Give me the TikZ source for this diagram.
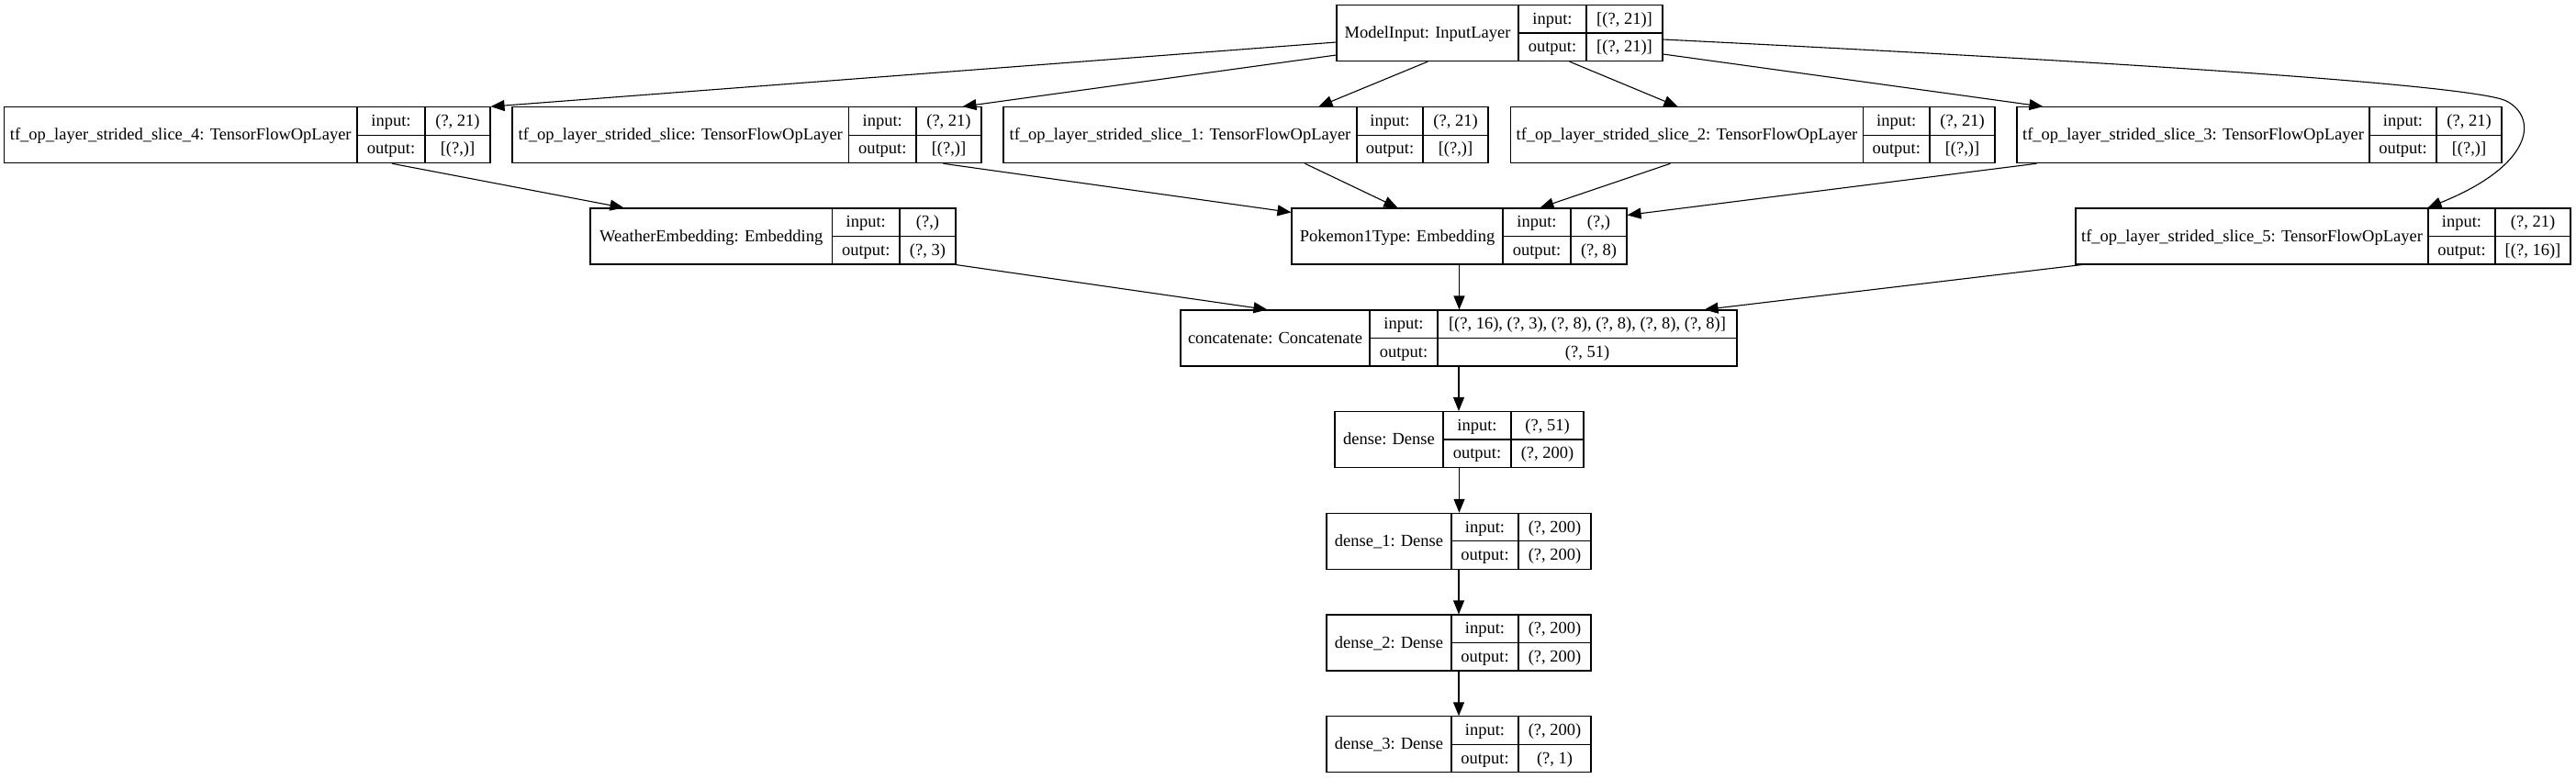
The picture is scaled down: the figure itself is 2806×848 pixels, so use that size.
\documentclass[tikz,border=0pt]{standalone}
\usepackage{fontspec}
\setmainfont{Liberation Serif}
\usetikzlibrary{fit,calc,arrows.meta}
\tikzset{
  boxshape/.style={draw, line width=0.55pt, inner sep=0pt, rectangle},
  cellline/.style={line width=0.55pt},
  txt/.style={anchor=base, inner sep=0pt, font=\fontsize{9.25pt}{11pt}\selectfont},
  edge/.style={line width=0.55pt, -{Triangle[length=7.5pt,width=6pt]}},
}
% #1 name, #2 x0, #3 y0, #4 x1, #5 first divider, #6 second divider, #7 label, #8 input, #9 output
\newcommand\layerbox[9]{%
  \coordinate (#1-nw) at (#2,#3);
  \coordinate (#1-se) at (#4,#3+61);
  \node[boxshape, fit=(#1-nw)(#1-se)] (#1) {};
  \draw[cellline] (#5,#3) -- (#5,#3+61) (#6,#3) -- (#6,#3+61) (#5,#3+30.5) -- (#4,#3+30.5);
  \node[txt] at ({(#2+#5)/2},#3+36) {#7};
  \node[txt] at ({(#5+#6)/2},#3+20.75) {input:};
  \node[txt] at ({(#5+#6)/2},#3+51.25) {output:};
  \node[txt] at ({(#6+#4)/2},#3+20.75) {#8};
  \node[txt] at ({(#6+#4)/2},#3+51.25) {#9};
}
\begin{document}
\begin{tikzpicture}[x=0.5pt,y=-0.5pt]
\path[fill=white] (0,0) rectangle (2806,848);
\useasboundingbox (0,0) rectangle (2806,848);

\layerbox{mi}{1456}{5.5}{1811}{1654}{1728}{ModelInput: InputLayer}{[(?, 21)]}{[(?, 21)]}
\layerbox{sfour}{4.5}{116.7}{534}{389}{463}{tf\_op\_layer\_strided\_slice\_4: TensorFlowOpLayer}{(?, 21)}{[(?,)]}
\layerbox{szero}{558}{116.7}{1069}{924.5}{998}{tf\_op\_layer\_strided\_slice: TensorFlowOpLayer}{(?, 21)}{[(?,)]}
\layerbox{sone}{1093}{116.7}{1621}{1478}{1550}{tf\_op\_layer\_strided\_slice\_1: TensorFlowOpLayer}{(?, 21)}{[(?,)]}
\layerbox{stwo}{1645.5}{116.7}{2173}{2029.5}{2102}{tf\_op\_layer\_strided\_slice\_2: TensorFlowOpLayer}{(?, 21)}{[(?,)]}
\layerbox{sthree}{2197}{116.7}{2725}{2581}{2654}{tf\_op\_layer\_strided\_slice\_3: TensorFlowOpLayer}{(?, 21)}{[(?,)]}
\layerbox{we}{643}{227}{1041}{906.5}{980}{WeatherEmbedding: Embedding}{(?,)}{(?, 3)}
\layerbox{pk}{1407}{227}{1772}{1637}{1711}{Pokemon1Type: Embedding}{(?,)}{(?, 8)}
\layerbox{sfive}{2261}{227}{2800}{2645}{2718}{tf\_op\_layer\_strided\_slice\_5: TensorFlowOpLayer}{(?, 21)}{[(?, 16)]}
\layerbox{cc}{1286}{338}{1892}{1492}{1566}{concatenate: Concatenate}{[(?, 16), (?, 3), (?, 8), (?, 8), (?, 8), (?, 8)]}{(?, 51)}
\layerbox{dz}{1454}{448.5}{1725}{1572}{1646}{dense: Dense}{(?, 51)}{(?, 200)}
\layerbox{done}{1445}{559.3}{1733}{1581}{1654}{dense\_1: Dense}{(?, 200)}{(?, 200)}
\layerbox{dtwo}{1445}{670}{1733}{1581}{1654}{dense\_2: Dense}{(?, 200)}{(?, 200)}
\layerbox{dthree}{1445}{780.8}{1733}{1581}{1654}{dense\_3: Dense}{(?, 200)}{(?, 1)}

% edges from ModelInput
\draw[edge] ($(mi.west)+(0,10)$) -- (sfour.north east);
\draw[edge] ($(mi.west)+(0,24)$) -- ($(szero.north east)+(-21,0)$);
\draw[edge] ($(mi.south west)+(100,0)$) -- ($(sone.north west)+(344,0)$);
\draw[edge] ($(mi.south west)+(254,0)$) -- ($(stwo.north west)+(182.5,0)$);
\draw[edge] ($(mi.east)+(0,23)$) -- ($(sthree.north west)+(29,0)$);
\draw[edge] ($(mi.east)+(0,7)$) .. controls (2400,72) and (2700,95) .. (2730,110)
  .. controls (2765,128) and (2760,180) .. ($(sfive.north west)+(384,0)$);

% into embeddings
\draw[edge] ($(sfour.south west)+(423,0)$) -- ($(we.north west)+(37,0)$);
\draw[edge] ($(szero.south west)+(470,0)$) -- ($(pk.north west)+(0,5)$);
\draw[edge] ($(sone.south west)+(329,0)$) -- ($(pk.north west)+(116,0)$);
\draw[edge] ($(stwo.south west)+(174.5,0)$) -- ($(pk.north west)+(271,0)$);
\draw[edge] ($(sthree.south west)+(22,0)$) -- ($(pk.north east)+(0,8)$);

% into concatenate
\draw[edge] (we.south east) -- ($(cc.north west)+(95,0)$);
\draw[edge] (pk.south) -- (pk.south |- cc.north);
\draw[edge] ($(sfive.south west)+(7,0)$) -- ($(cc.north east)+(-36,0)$);

% dense chain
\draw[edge] (cc.south) -- (cc.south |- dz.north);
\draw[edge] (dz.south) -- (dz.south |- done.north);
\draw[edge] (done.south) -- (done.south |- dtwo.north);
\draw[edge] (dtwo.south) -- (dtwo.south |- dthree.north);
\end{tikzpicture}
\end{document}
